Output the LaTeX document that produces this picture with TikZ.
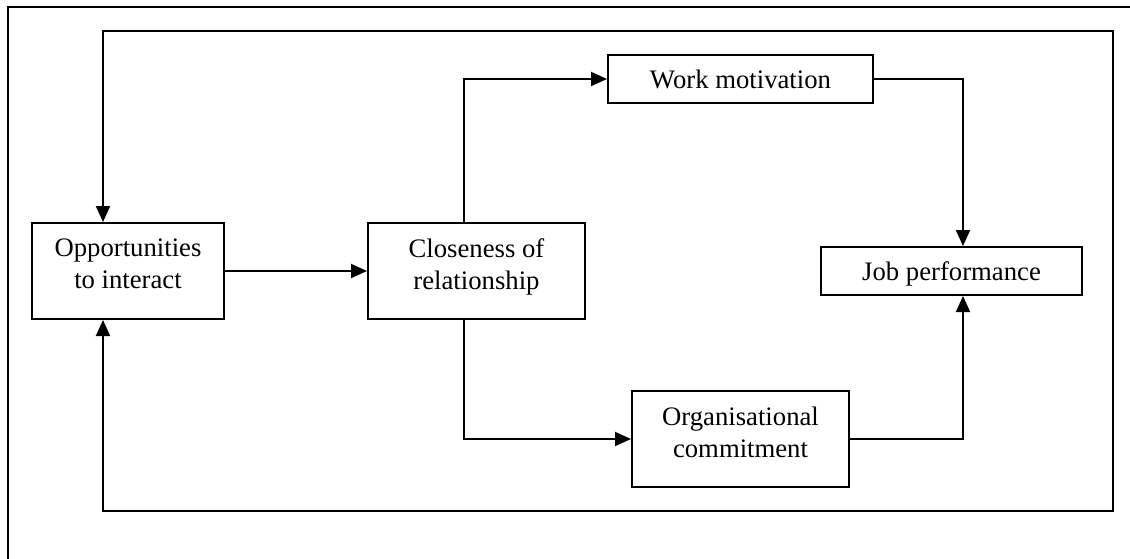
\documentclass[tikz,border=0pt]{standalone}
\usepackage{fontspec}
\setmainfont{Liberation Serif}
\usetikzlibrary{arrows.meta}
\newcommand\dstrut{\rule[-7pt]{0pt}{7pt}}
\begin{document}
\begin{tikzpicture}[x=0.5pt,y=-0.5pt,
  every path/.style={line width=1pt},
  box/.style={draw, fill=white, inner sep=0pt, align=center,
    font=\fontsize{13.35pt}{16pt}\selectfont},
  onebox/.style={box, text height=9.5pt, text depth=0pt},
  arr/.style={-{Triangle[length=8pt,width=7pt]}},
  darr/.style={{Triangle[length=8pt,width=7pt]}-{Triangle[length=8pt,width=7pt]}}]
\useasboundingbox (0,0) rectangle (1130,558);
% outer frame (cut by page edge)
\draw (8,562) -- (8,7) -- (1134,7);
% nodes
\node[box, minimum width=96pt, minimum height=48pt] (opp) at (128,271) {Opportunities\\to interact\dstrut};
\node[box, minimum width=108.5pt, minimum height=48pt] (close) at (476.5,271) {Closeness of\\relationship\dstrut};
\node[onebox, minimum width=132.5pt, minimum height=24pt] (work) at (740.5,79) {Work motivation};
\node[box, minimum width=108.5pt, minimum height=48pt] (org) at (740.5,439) {Organisational\\commitment\dstrut};
\node[onebox, minimum width=130.5pt, minimum height=24pt] (job) at (951.5,271) {Job performance};
% routing coordinates
\coordinate (tl) at (103,31);
\coordinate (tr) at (1113,31);
\coordinate (br) at (1113,511);
\coordinate (bl) at (103,511);
\coordinate (cx) at (464,271);
\coordinate (jx) at (963,271);
% connectors
\draw[darr] (opp.north -| tl) -- (tl) -- (tr) -- (br) -- (bl) -- (opp.south -| bl);
\draw[arr] (opp.east) -- (close.west);
\draw[arr] (close.north -| cx) |- (work.west);
\draw[arr] (close.south -| cx) |- (org.west);
\draw[arr] (work.east) -| (jx |- job.north);
\draw[arr] (org.east) -| (jx |- job.south);
\end{tikzpicture}
\end{document}
